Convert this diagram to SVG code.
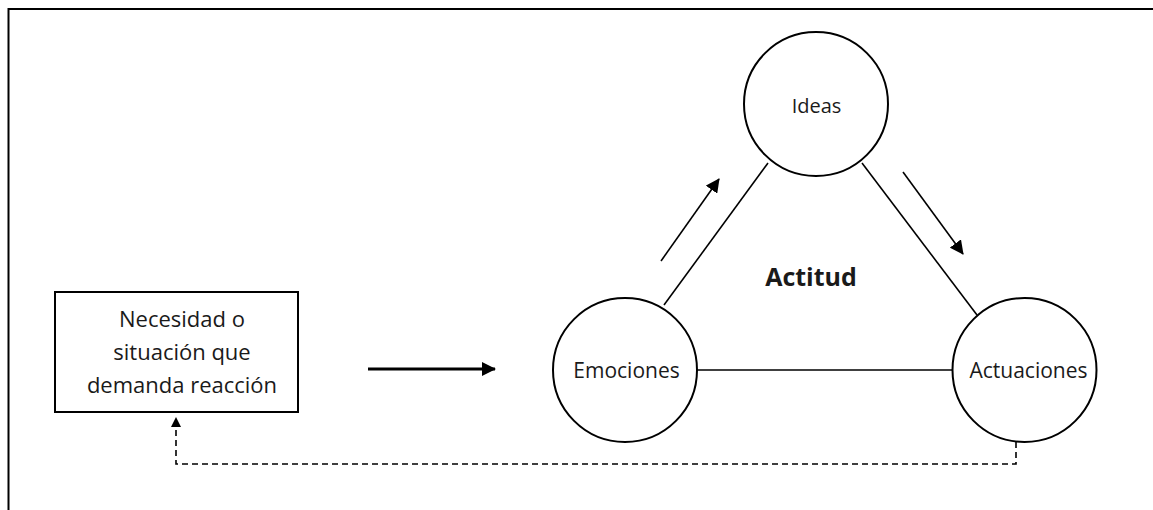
<svg xmlns="http://www.w3.org/2000/svg" width="1153" height="510" viewBox="0 0 1153 510">
<style>
.n{fill:#fff;stroke:#000;stroke-width:2}
.t{font-family:"Open Sans","Liberation Sans",sans-serif;font-size:21px;fill:#1a1a1a;text-anchor:middle}
.c{stroke:#000;stroke-width:1.6;fill:none}
</style>
<defs>
<marker id="ah" markerWidth="10" markerHeight="10" refX="9" refY="5" orient="auto" markerUnits="userSpaceOnUse" viewBox="0 0 10 10"><path d="M0,0 L10,5 L0,10 z" fill="#000"/></marker>
<marker id="ah2" markerWidth="14" markerHeight="14" refX="13" refY="7" orient="auto" markerUnits="userSpaceOnUse" viewBox="0 0 14 14"><path d="M0,0 L14,7 L0,14 z" fill="#000"/></marker>
</defs>
<rect width="1153" height="510" fill="#fff"/>
<path d="M8.5,515 V9 H1153" fill="none" stroke="#000" stroke-width="2"/>
<g id="connectors">
<line class="c" x1="664" y1="305" x2="768" y2="163"/>
<line class="c" x1="862" y1="163" x2="977" y2="315"/>
<line class="c" x1="697" y1="370" x2="952" y2="370"/>
<line x1="368" y1="369" x2="495" y2="369" stroke="#000" stroke-width="3" marker-end="url(#ah2)"/>
<line class="c" x1="661" y1="261" x2="719" y2="179" marker-end="url(#ah2)"/>
<line class="c" x1="903" y1="172" x2="963" y2="254" marker-end="url(#ah2)"/>
<path d="M1016,442 V464 H176 V418" fill="none" stroke="#000" stroke-width="1.6" stroke-dasharray="6,4" marker-end="url(#ah)"/>
</g>
<g id="necesidad">
<rect class="n" x="55" y="292" width="243" height="120"/>
<text class="t" x="182" y="327" style="font-size:22px">Necesidad o</text>
<text class="t" x="182" y="360" style="font-size:22px">situación que</text>
<text class="t" x="182" y="393" style="font-size:22px">demanda reacción</text>
</g>
<g id="ideas">
<circle class="n" cx="816" cy="104" r="72"/>
<text class="t" x="816.5" y="113" style="font-size:20px">Ideas</text>
</g>
<g id="emociones">
<circle class="n" cx="625" cy="370" r="72"/>
<text class="t" x="626.5" y="378">Emociones</text>
</g>
<g id="actuaciones">
<circle class="n" cx="1024.5" cy="370" r="72"/>
<text class="t" x="1028.5" y="378">Actuaciones</text>
</g>
<g id="actitud">
<text class="t" x="811" y="286" style="font-size:25px;font-weight:bold">Actitud</text>
</g>
</svg>
